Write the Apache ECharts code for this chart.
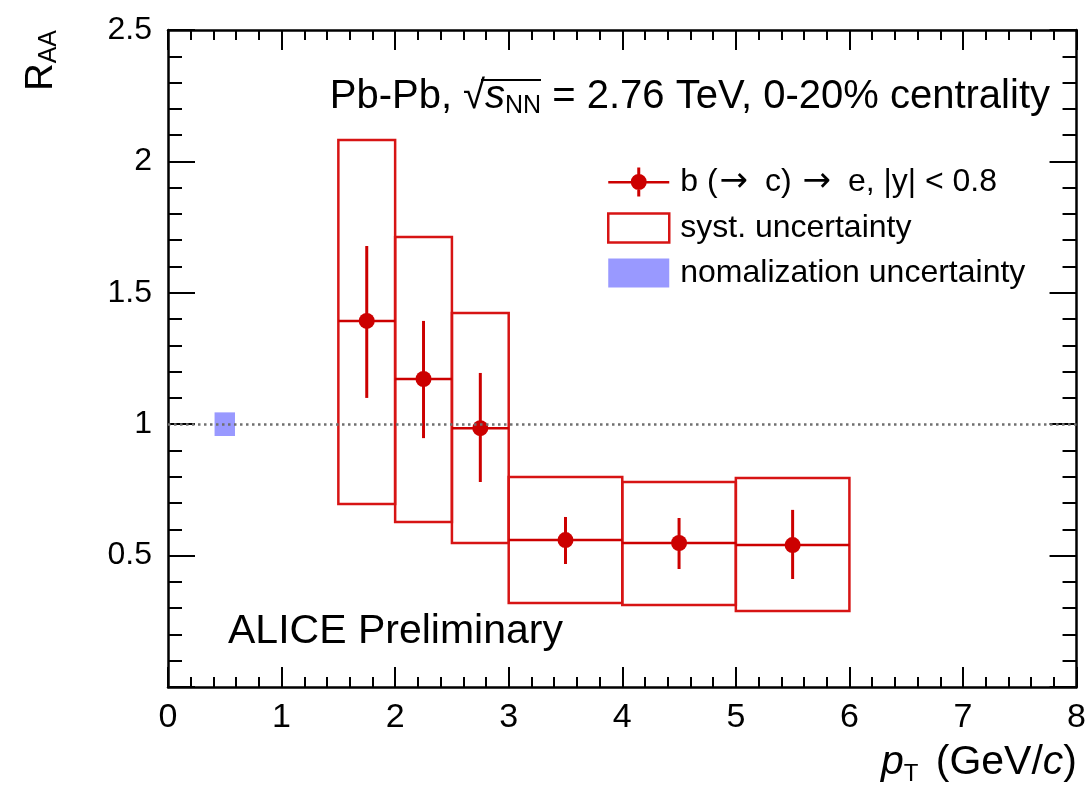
<!DOCTYPE html>
<html><head><meta charset="utf-8">
<script src="https://cdn.jsdelivr.net/npm/echarts@6/dist/echarts.min.js"></script>
<style>html,body{margin:0;padding:0;background:#fff}#c{width:1089px;height:794px}</style>
</head><body><div id="c"></div>
<script>
// ---- data ----
const binLow   = [1.5, 2.0, 2.5, 3.0, 4.0, 5.0];
const binHigh  = [2.0, 2.5, 3.0, 4.0, 5.0, 6.0];
const ptCenter = [1.75, 2.25, 2.75, 3.5, 4.5, 5.5];
const raa      = [1.393, 1.172, 0.985, 0.559, 0.548, 0.540];
const statLow  = [1.100, 0.947, 0.780, 0.468, 0.449, 0.411];
const statHigh = [1.678, 1.393, 1.195, 0.647, 0.643, 0.674];
const systLow  = [0.696, 0.628, 0.548, 0.320, 0.312, 0.289];
const systHigh = [2.081, 1.712, 1.423, 0.799, 0.780, 0.795];
const normX    = [0.41, 0.59];
const normY    = [0.955, 1.045];
const refLineY = 1;
const xTickLabels = ['0','1','2','3','4','5','6','7','8'];
const yTickLabels = ['', '0.5', '1', '1.5', '2', '2.5'];
const seriesNames = ['b (\u2192 c) \u2192 e, |y| < 0.8', 'syst. uncertainty', 'nomalization uncertainty'];

const FONT = 'Liberation Sans, Arial, Helvetica, sans-serif';
const RED = '#cc0000';
const BOXRED = '#d71414';
const NORM = '#9999ff';

const pointData = ptCenter.map((x, i) => [x, raa[i], statLow[i], statHigh[i], binLow[i], binHigh[i]]);
const systData = binLow.map((x, i) => [x, binHigh[i], systLow[i], systHigh[i]]);
const normData = [[normX[0], normX[1], normY[0], normY[1]]];

const chart = echarts.init(document.getElementById('c'), null, {renderer: 'canvas'});

function rectItem(params, api, fill, stroke, lw) {
  const p1 = api.coord([api.value(0), api.value(3)]);
  const p2 = api.coord([api.value(1), api.value(2)]);
  return {
    type: 'rect',
    shape: {x: p1[0], y: p1[1], width: p2[0] - p1[0], height: p2[1] - p1[1]},
    style: {fill: fill, stroke: stroke, lineWidth: lw}
  };
}

const tickCommon = {color: '#000', width: 2};
const axisLineCommon = {onZero: false, lineStyle: {color: '#000', width: 2.5}};

chart.setOption({
  animation: false,
  backgroundColor: '#fff',
  grid: {left: 168, right: 12, top: 30, bottom: 107, containLabel: false},
  xAxis: [
    {type: 'value', min: 0, max: 8, interval: 1, position: 'bottom',
     axisLine: axisLineCommon,
     axisTick: {inside: true, length: 20, lineStyle: tickCommon},
     minorTick: {show: true, splitNumber: 5, length: 10, lineStyle: tickCommon},
     axisLabel: {fontSize: 34, color: '#000', margin: 14, fontFamily: FONT,
                 formatter: v => xTickLabels[Math.round(v)]},
     splitLine: {show: false}},
    {type: 'value', min: 0, max: 8, interval: 1, position: 'top',
     axisLine: axisLineCommon,
     axisTick: {inside: true, length: 20, lineStyle: tickCommon},
     minorTick: {show: true, splitNumber: 5, length: 10, lineStyle: tickCommon},
     axisLabel: {show: false}, splitLine: {show: false}}
  ],
  yAxis: [
    {type: 'value', min: 0, max: 2.5, interval: 0.5, position: 'left',
     axisLine: axisLineCommon,
     axisTick: {inside: true, length: 27, lineStyle: tickCommon},
     minorTick: {show: true, splitNumber: 5, length: 14, lineStyle: tickCommon},
     axisLabel: {fontSize: 32, color: '#000', margin: 16, fontFamily: FONT,
                 formatter: v => yTickLabels[Math.round(v * 2)]},
     splitLine: {show: false}},
    {type: 'value', min: 0, max: 2.5, interval: 0.5, position: 'right',
     axisLine: axisLineCommon,
     axisTick: {inside: true, length: 27, lineStyle: tickCommon},
     minorTick: {show: true, splitNumber: 5, length: 14, lineStyle: tickCommon},
     axisLabel: {show: false}, splitLine: {show: false}}
  ],
  legend: {
    orient: 'vertical', left: 607, top: 165, padding: 0,
    itemWidth: 61, itemHeight: 29, itemGap: 13,
    selectedMode: false,
    formatter: name => name.replace(/\u2192/g, '{a|\u2192}'),
    textStyle: {fontSize: 32, lineHeight: 32, color: '#000', fontFamily: FONT, padding: [0, 0, 0, 6],
                rich: {a: {fontSize: 34, lineHeight: 32, fontFamily: 'DejaVu Sans', color: '#000', padding: [0, 8, 0, 2]}}},
    data: [
      {name: seriesNames[0],
       icon: 'path://M0,13.5h61v2.5h-61z M30.5,6.5a8,8 0 1,1 0,16a8,8 0 1,1 0,-16z M29,0h3v29h-3z',
       itemStyle: {color: RED}},
      {name: seriesNames[1], icon: 'rect',
       itemStyle: {color: 'rgba(255,255,255,0)', borderColor: BOXRED, borderWidth: 2.5}},
      {name: seriesNames[2], icon: 'rect', itemStyle: {color: NORM}}
    ]
  },
  series: [
    {
      name: seriesNames[2], type: 'custom', xAxisIndex: 0, yAxisIndex: 0,
      data: normData, encode: {x: [0, 1], y: [2, 3]},
      renderItem: (params, api) => rectItem(params, api, NORM, null, 0),
      markLine: {silent: true, symbol: 'none', animation: false,
                 label: {show: false},
                 lineStyle: {type: [2.5, 3.5], color: '#707070', width: 2.5},
                 data: [{yAxis: refLineY}]},
      z: 2
    },
    {
      name: seriesNames[1], type: 'custom', xAxisIndex: 0, yAxisIndex: 0,
      data: systData, encode: {x: [0, 1], y: [2, 3]},
      renderItem: (params, api) => rectItem(params, api, 'none', BOXRED, 2.5),
      z: 3
    },
    {
      name: seriesNames[0], type: 'custom', xAxisIndex: 0, yAxisIndex: 0,
      data: pointData, encode: {x: [0, 4, 5], y: [1, 2, 3]},
      renderItem: (params, api) => {
        const xc = api.value(0), y = api.value(1);
        const pC = api.coord([xc, y]);
        const pL = api.coord([api.value(4), y]);
        const pR = api.coord([api.value(5), y]);
        const pT = api.coord([xc, api.value(3)]);
        const pB = api.coord([xc, api.value(2)]);
        return {type: 'group', children: [
          {type: 'line', shape: {x1: pL[0], y1: pL[1], x2: pR[0], y2: pR[1]}, style: {stroke: RED, lineWidth: 2.5}},
          {type: 'line', shape: {x1: pT[0], y1: pT[1], x2: pB[0], y2: pB[1]}, style: {stroke: RED, lineWidth: 3}},
          {type: 'circle', shape: {cx: pC[0], cy: pC[1], r: 8}, style: {fill: RED}}
        ]};
      },
      z: 4
    }
  ],
  graphic: [
    {type: 'text', x: 1050, y: 97, z: 10,
     style: {text: 'Pb-Pb, \u221A{s|s}{sub|NN} = 2.76 TeV, 0-20% centrality',
             align: 'right', verticalAlign: 'middle',
             fontSize: 40, fontFamily: FONT, fill: '#000', lineHeight: 44,
             rich: {s: {fontStyle: 'italic', fontSize: 40, fontFamily: FONT, lineHeight: 44},
                    sub: {fontSize: 25, fontFamily: FONT, lineHeight: 25, verticalAlign: 'bottom', padding: [8, 0, 0, 0]}}}},
    {type: 'line', z: 10, shape: {x1: 481, y1: 80, x2: 541, y2: 80}, style: {stroke: '#000', lineWidth: 2}},
    {type: 'text', x: 228, y: 632, z: 10,
     style: {text: 'ALICE Preliminary', align: 'left', verticalAlign: 'middle',
             fontSize: 41, fontFamily: FONT, fill: '#000'}},
    {type: 'text', x: 1077, y: 763, z: 10,
     style: {text: '{it|p}{sub|T} (GeV/{it|c})', align: 'right', verticalAlign: 'middle',
             fontSize: 41, fontFamily: FONT, fill: '#000', lineHeight: 46,
             rich: {it: {fontStyle: 'italic', fontSize: 41, fontFamily: FONT, lineHeight: 46},
                    sub: {fontSize: 24, fontFamily: FONT, lineHeight: 24, verticalAlign: 'bottom', padding: [14, 6, 0, 0]}}}},
    {type: 'text', x: 42, y: 30, rotation: Math.PI / 2, z: 10,
     style: {text: 'R{sub|AA}', align: 'right', verticalAlign: 'middle',
             fontSize: 38, fontFamily: FONT, fill: '#000', lineHeight: 40,
             rich: {sub: {fontSize: 25, fontFamily: FONT, lineHeight: 25, verticalAlign: 'bottom', padding: [8, 0, 0, 0]}}}}
  ]
});
</script>
</body></html>
